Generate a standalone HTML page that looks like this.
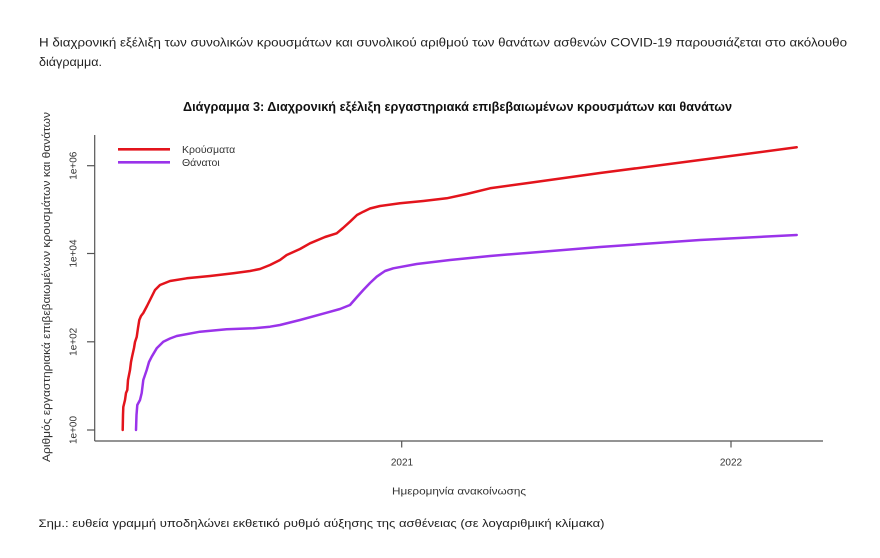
<!DOCTYPE html>
<html>
<head>
<meta charset="utf-8">
<style>
  html,body{margin:0;padding:0;background:#fff;}
  body{width:880px;height:558px;overflow:hidden;}
  svg{display:block;}
  text{font-family:"Liberation Sans","DejaVu Sans",sans-serif;}
</style>
</head>
<body>
<svg width="880" height="558" viewBox="0 0 880 558" xmlns="http://www.w3.org/2000/svg">
  <rect width="880" height="558" fill="#ffffff"/>

  <!-- intro paragraph -->
  <text x="39" y="46.5" font-size="11.5" fill="#1f1f1f" textLength="808" lengthAdjust="spacingAndGlyphs">Η διαχρονική εξέλιξη των συνολικών κρουσμάτων και συνολικού αριθμού των θανάτων ασθενών COVID-19 παρουσιάζεται στο ακόλουθο</text>
  <text x="39" y="66" font-size="11.5" fill="#1f1f1f" textLength="63" lengthAdjust="spacingAndGlyphs">διάγραμμα.</text>

  <!-- chart title -->
  <text x="183" y="111" font-size="12.5" font-weight="bold" fill="#111" textLength="549" lengthAdjust="spacingAndGlyphs">Διάγραμμα 3: Διαχρονική εξέλιξη εργαστηριακά επιβεβαιωμένων κρουσμάτων και θανάτων</text>

  <!-- axes -->
  <g stroke="#555" stroke-width="1.2" fill="none">
    <line x1="94.7" y1="135" x2="94.7" y2="441"/>
    <line x1="94.7" y1="441" x2="823" y2="441"/>
    <!-- y ticks -->
    <line x1="87" y1="430" x2="94.7" y2="430"/>
    <line x1="87" y1="341.8" x2="94.7" y2="341.8"/>
    <line x1="87" y1="253.5" x2="94.7" y2="253.5"/>
    <line x1="87" y1="165.7" x2="94.7" y2="165.7"/>
    <!-- x ticks -->
    <line x1="401.7" y1="441" x2="401.7" y2="447.5"/>
    <line x1="731" y1="441" x2="731" y2="447.5"/>
  </g>

  <!-- y tick labels -->
  <g font-size="10" fill="#333" text-anchor="middle">
    <text transform="translate(76.5,430) rotate(-90)">1e+00</text>
    <text transform="translate(76.5,341.8) rotate(-90)">1e+02</text>
    <text transform="translate(76.5,253.5) rotate(-90)">1e+04</text>
    <text transform="translate(76.5,165.7) rotate(-90)">1e+06</text>
  </g>

  <!-- y axis label -->
  <text transform="translate(50,287) rotate(-90)" font-size="11" fill="#333" text-anchor="middle" textLength="350" lengthAdjust="spacingAndGlyphs">Αριθμός εργαστηριακά επιβεβαιωμένων κρουσμάτων και θανάτων</text>

  <!-- x tick labels -->
  <g font-size="10" fill="#333" text-anchor="middle">
    <text x="402" y="465.5">2021</text>
    <text x="731" y="465.5">2022</text>
  </g>
  <text x="459" y="494.5" font-size="10.5" fill="#333" text-anchor="middle" textLength="134" lengthAdjust="spacingAndGlyphs">Ημερομηνία ανακοίνωσης</text>

  <!-- legend -->
  <line x1="118" y1="149.3" x2="170" y2="149.3" stroke="#e3141c" stroke-width="2.6"/>
  <line x1="118" y1="162.3" x2="170" y2="162.3" stroke="#9a33ea" stroke-width="2.6"/>
  <text x="182" y="153" font-size="10.5" fill="#333">Κρούσματα</text>
  <text x="182" y="166" font-size="10.5" fill="#333">Θάνατοι</text>

  <!-- cases series -->
  <polyline fill="none" stroke="#e3141c" stroke-width="2.5" stroke-linejoin="round" stroke-linecap="round"
    points="122.7,430 123,415 123.3,407 125,400 126,393 127.3,390 128,380 130,370 131,362 132,357 134,348 135,342 136.7,337 138,328 139.3,320 141,316 143.3,313 147,306 150,300 155,290 160,285 165,283 170,281 186.7,278.3 210,276 233.3,273.3 250,271 260,269 270,265 280,260 286.7,255 300,249 310,243.3 325,237 336.7,233.3 343,228 350,221.7 357,215 363.3,211.7 370,208.5 380,206 400,203.3 423.3,201 446.7,198.3 466.7,194 490,188.3 530,182.7 600,173 700,160 796.7,147.3"/>

  <!-- deaths series -->
  <polyline fill="none" stroke="#9a33ea" stroke-width="2.5" stroke-linejoin="round" stroke-linecap="round"
    points="136,430 136.5,415 137.3,405 140,400 141.7,393 143.3,380 145,375 146.7,370 149,362 151.7,356.7 156.7,348.3 163.3,341.7 170,338.5 176.7,336 200,331.7 226.7,329.3 253.3,328.3 270,326.7 280,325 300,320 326.7,312.7 340,309 350,305 357,297 363.3,290 370,283 376.7,276.7 385,271 393.3,268.3 416.7,264 450,260 490,256 530,252.7 600,247 700,240 796.7,235"/>

  <!-- footnote -->
  <text x="38.5" y="527" font-size="11" fill="#1f1f1f" textLength="566" lengthAdjust="spacingAndGlyphs">Σημ.: ευθεία γραμμή υποδηλώνει εκθετικό ρυθμό αύξησης της ασθένειας (σε λογαριθμική κλίμακα)</text>
</svg>
</body>
</html>
